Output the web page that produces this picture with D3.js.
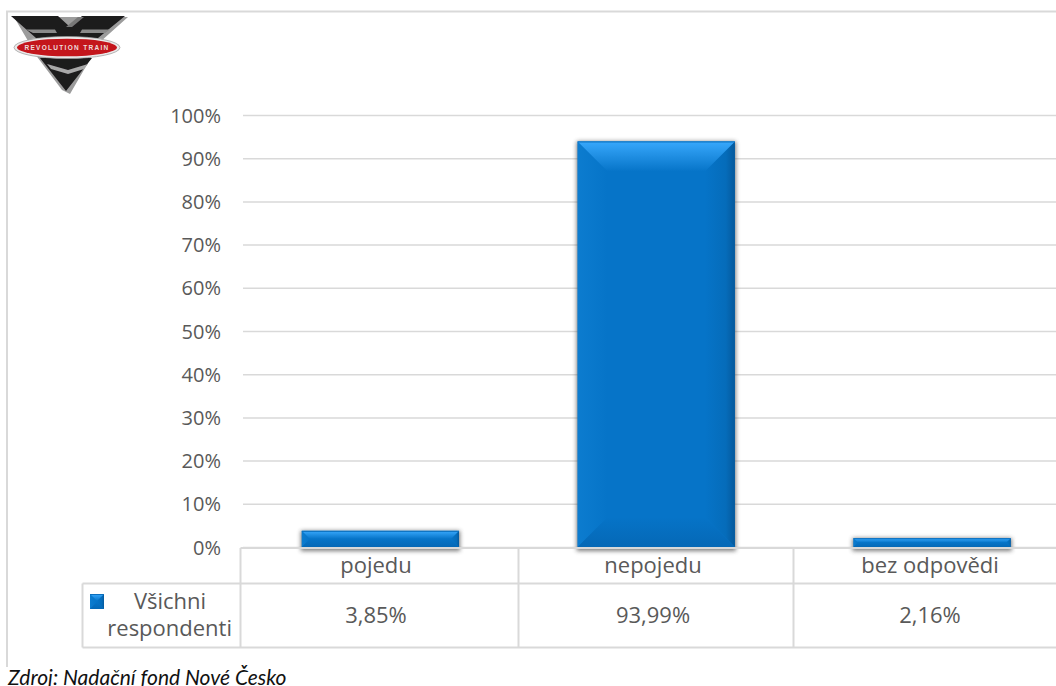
<!DOCTYPE html>
<html><head><meta charset="utf-8">
<script src="https://cdn.jsdelivr.net/npm/d3@7"></script>
<style>
html,body{margin:0;padding:0;background:#fff;overflow:hidden}
svg{display:block}
text{fill:#595959}
.tick-label{font:20px "Open Sans"}
.tbl{font:22px "Open Sans"}
</style></head><body>
<svg id="c" width="1056" height="686"></svg>
<script>
const categories = ["pojedu", "nepojedu", "bez odpovědi"];
const values = [3.85, 93.99, 2.16];
const valueLabels = ["3,85%", "93,99%", "2,16%"];
const yTicks = [0,10,20,30,40,50,60,70,80,90,100];
const seriesName = ["Všichni", "respondenti"];
const sourceNote = "Zdroj: Nadační fond Nové Česko";
const logoText = "REVOLUTION TRAIN";

const svg = d3.select("#c");
const defs = svg.append("defs");
const y = d3.scaleLinear().domain([0,100]).range([547.5,115.5]);
const x = d3.scaleBand().domain(categories).range([242.5,1070]).paddingInner(0.43).paddingOuter(0.215);
const xText = d3.scalePoint().domain(categories).range([376,930]);
const GRID="#d9d9d9", MID="#0674c8";

function grad(id,x1,y1,x2,y2,stops){
  const g=defs.append("linearGradient").attr("id",id).attr("x1",x1).attr("y1",y1).attr("x2",x2).attr("y2",y2);
  stops.forEach(s=>g.append("stop").attr("offset",s[0]).attr("stop-color",s[1]));
}
grad("gTop",0,0,0,1,[[0,"#38a8fc"],[1,MID]]);
grad("gBot",0,0,0,1,[[0,MID],[1,"#0568b6"]]);
grad("gLeft",0,0,1,0,[[0,"#0c7ccf"],[1,MID]]);
grad("gRight",0,0,1,0,[[0,MID],[0.7,"#056cba"],[1,"#05599c"]]);
const f=defs.append("filter").attr("id","sh").attr("x","-10%").attr("y","-40%").attr("width","120%").attr("height","180%");
f.append("feGaussianBlur").attr("stdDeviation",2);
defs.append("filter").attr("id","soft").append("feGaussianBlur").attr("stdDeviation",0.5);

// frame
svg.append("path").attr("d","M7 667V11.5H1056").attr("fill","none").attr("stroke",GRID).attr("stroke-width",2);

// grid
svg.append("g").selectAll("line").data(yTicks).join("line")
  .attr("x1",243).attr("x2",1056).attr("y1",d=>y(d)).attr("y2",d=>y(d))
  .attr("stroke",GRID).attr("stroke-width",1.5);
svg.append("g").selectAll("text").data(yTicks).join("text").attr("class","tick-label")
  .attr("x",221).attr("y",d=>y(d)+7).attr("text-anchor","end").text(d=>d+"%");

// table
const colEdges=[518.5,793.5];
const tbl=svg.append("g").attr("stroke",GRID).attr("stroke-width",2).attr("fill","none");
tbl.append("path").attr("d","M82.5 583.5H1056M82.5 647.5H1056M82.5 583.5V647.5M240.5 548V647.5");
tbl.selectAll("line.v").data(colEdges).join("line").attr("class","v")
  .attr("x1",d=>d).attr("x2",d=>d).attr("y1",548).attr("y2",647.5);

// bars
function bevelBar(g,xx,yy,w,h,b){
  const r=xx+w, t=yy, bt=yy+h;
  const poly=(pts,fill)=>g.append("polygon").attr("points",pts.map(p=>p.join(",")).join(" ")).attr("fill",fill);
  g.append("rect").attr("x",xx).attr("y",t).attr("width",w).attr("height",h).attr("fill",MID);
  poly([[xx,t],[xx+b,t+b],[xx+b,bt-b],[xx,bt]],"url(#gLeft)");
  poly([[r,t],[r-b,t+b],[r-b,bt-b],[r,bt]],"url(#gRight)");
  poly([[xx,bt],[r,bt],[r-b,bt-b],[xx+b,bt-b]],"url(#gBot)");
  poly([[xx,t],[r,t],[r-b,t+b],[xx+b,t+b]],"url(#gTop)");
  g.append("rect").attr("x",xx).attr("y",t).attr("width",w).attr("height",1).attr("fill","#0b6fbd");
}
const bars=svg.append("g");
categories.forEach((c,i)=>{
  const xx=x(c), w=x.bandwidth(), top=y(values[i]), h=y(0)-top;
  bars.append("rect").attr("x",xx-1).attr("y",top).attr("width",w+2).attr("height",h+3.5)
    .attr("fill","#444").attr("opacity",0.7).attr("filter","url(#sh)");
  bevelBar(bars.append("g"),xx,top,w,h-0.5,Math.min(30,(h-0.5)/2));
});
// axis line in front of the shadow
svg.append("path").attr("d","M240.5 548H1056").attr("stroke",GRID).attr("stroke-width",2);

// table text
svg.append("g").selectAll("text").data(categories).join("text").attr("class","tbl")
  .attr("x",d=>xText(d)).attr("y",573).attr("text-anchor","middle").text(d=>d);
svg.append("g").selectAll("text").data(valueLabels).join("text").attr("class","tbl")
  .attr("x",(d,i)=>xText(categories[i])).attr("y",623).attr("text-anchor","middle").text(d=>d);

// legend key
bevelBar(svg.append("g"),90,594,14,15,7);
svg.append("text").attr("class","tbl").attr("x",170).attr("y",609).attr("text-anchor","middle").text(seriesName[0]);
svg.append("text").attr("class","tbl").attr("x",232).attr("y",636).attr("text-anchor","end").text(seriesName[1]);

// source
svg.append("text").attr("x",8).attr("y",685).style("font",'italic 21px Lato').style("fill","#111").text(sourceNote);

// logo
const lg=svg.append("g").attr("filter","url(#soft)");
lg.append("path").attr("d","M14 17H128L100 42L70 94L62 90L38 58Z").attr("fill","#9c9c9c");
lg.append("path").attr("d","M11 16H58L70 27L82 16H125L98 38H36ZM40 58H92L66 91Z").attr("fill","#1c1a1c");
lg.append("path").attr("d","M26 29.5H55L57 33H33Z").attr("fill","#8a8a8a");
lg.append("path").attr("d","M80 33L82 29.5H110L105 33Z").attr("fill","#8a8a8a");
lg.append("path").attr("d","M66 27L78 17H84L72 27Z").attr("fill","#777");
lg.append("path").attr("d","M47 64L68 70L88 64L84 69L68 74L51 69Z").attr("fill","#a8a8a8");
lg.append("ellipse").attr("cx",67).attr("cy",47.5).attr("rx",53).attr("ry",11).attr("fill","#eaeaea").attr("stroke","#999").attr("stroke-width",0.7);
lg.append("ellipse").attr("cx",67).attr("cy",47.5).attr("rx",50).attr("ry",8.8).attr("fill","#c4141c");
svg.append("text").attr("x",67).attr("y",50).attr("text-anchor","middle")
  .style("font",'bold 6.5px "Liberation Sans"').style("letter-spacing","1.3px").style("fill","#eddcdc").text(logoText);
</script></body></html>
